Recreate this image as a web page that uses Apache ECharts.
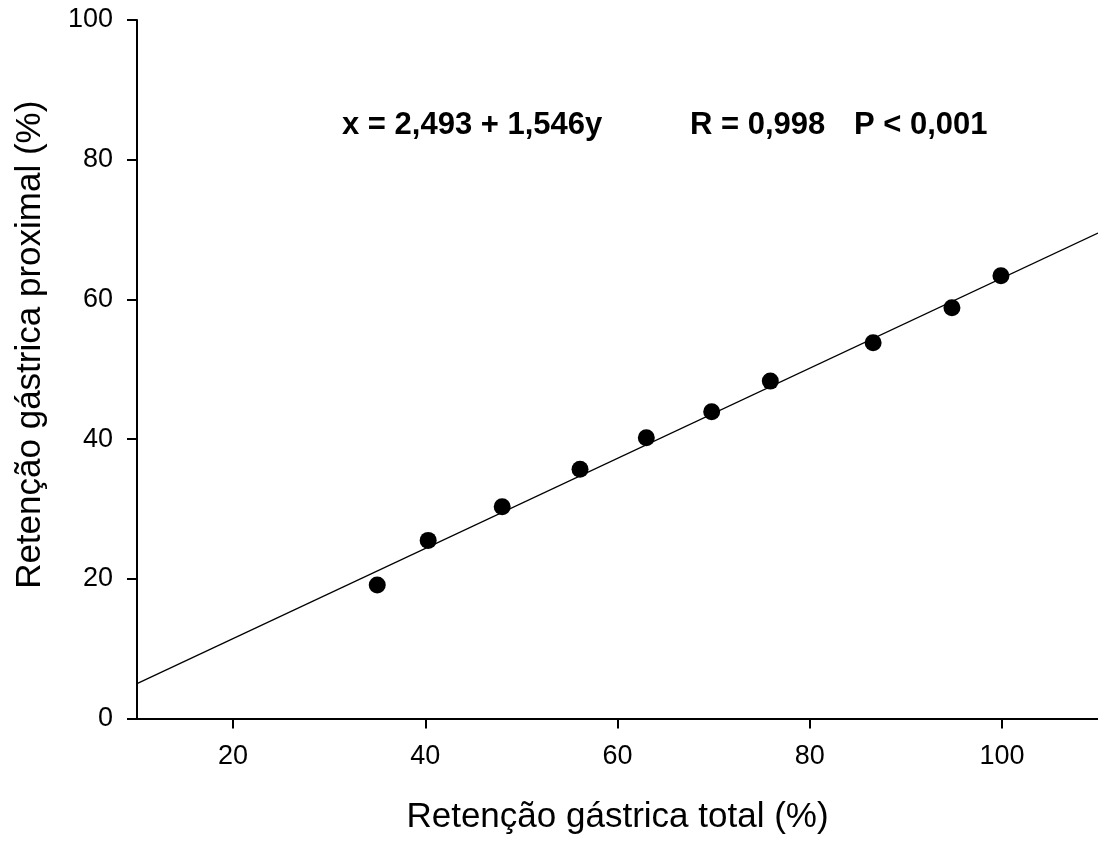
<!DOCTYPE html>
<html>
<head>
<meta charset="utf-8">
<script src="https://cdn.jsdelivr.net/npm/echarts@6/dist/echarts.min.js"></script>
<style>
  html, body { margin: 0; padding: 0; background: #fff; }
  #chart { width: 1098px; height: 841px; }
</style>
</head>
<body>
<div id="chart"></div>
<script>
// Data
const totalRetention = [35.0, 40.3, 48.0, 56.1, 63.0, 69.8, 75.9, 86.6, 94.8, 99.9];
const proximalRetention = [19.1, 25.5, 30.3, 35.7, 40.2, 43.9, 48.3, 53.8, 58.8, 63.4];
const fitLineX = [10, 110];
const fitLineY = [5.0, 69.5];
const xTickValues = [20, 40, 60, 80, 100];
const equationText = 'x = 2,493 + 1,546y';
const rText = 'R = 0,998';
const pText = 'P < 0,001';
const xTitle = 'Retenção gástrica total (%)';
const yTitle = 'Retenção gástrica proximal (%)';

const FONT = "'Liberation Sans', Arial, Helvetica, sans-serif";

const scatterData = totalRetention.map((x, i) => [x, proximalRetention[i]]);
const lineData = fitLineX.map((x, i) => [x, fitLineY[i]]);

const chart = echarts.init(document.getElementById('chart'), null, { renderer: 'canvas' });

chart.setOption({
  backgroundColor: '#ffffff',
  animation: false,
  grid: { left: 137, right: -1, top: 20, bottom: 122.5, containLabel: false },
  xAxis: {
    type: 'value',
    min: 10,
    max: 110,
    name: xTitle,
    nameLocation: 'middle',
    nameGap: 81,
    nameTextStyle: { fontFamily: FONT, fontSize: 35, color: '#000' },
    axisLine: { show: true, onZero: false, lineStyle: { color: '#000', width: 2 } },
    axisTick: { show: true, inside: false, length: 10, customValues: xTickValues, lineStyle: { color: '#000', width: 2 } },
    axisLabel: { show: true, margin: 25, customValues: xTickValues, fontFamily: FONT, fontSize: 27, color: '#000' },
    splitLine: { show: false }
  },
  yAxis: {
    type: 'value',
    min: 0,
    max: 100,
    interval: 20,
    name: yTitle,
    nameLocation: 'middle',
    nameGap: 89,
    nameTextStyle: { fontFamily: FONT, fontSize: 35, color: '#000', padding: [0, 0, 0, 49] },
    axisLine: { show: true, onZero: false, lineStyle: { color: '#000', width: 2 } },
    axisTick: { show: true, inside: false, length: 10, lineStyle: { color: '#000', width: 2 } },
    axisLabel: { show: true, margin: 24, fontFamily: FONT, fontSize: 27, color: '#000' },
    splitLine: { show: false }
  },
  graphic: [
    { type: 'text', left: 342, top: 110, style: { text: equationText, fontFamily: FONT, fontSize: 31, fontWeight: 'bold', fill: '#000' } },
    { type: 'text', left: 690, top: 110, style: { text: rText, fontFamily: FONT, fontSize: 31, fontWeight: 'bold', fill: '#000' } },
    { type: 'text', left: 854, top: 110, style: { text: pText, fontFamily: FONT, fontSize: 31, fontWeight: 'bold', fill: '#000' } }
  ],
  series: [
    {
      type: 'line',
      data: lineData,
      showSymbol: false,
      symbol: 'none',
      lineStyle: { color: '#000', width: 1.3 },
      silent: true,
      z: 2
    },
    {
      type: 'scatter',
      data: scatterData,
      symbol: 'circle',
      symbolSize: 17,
      itemStyle: { color: '#000', opacity: 1 },
      z: 3
    }
  ]
});
</script>
</body>
</html>
